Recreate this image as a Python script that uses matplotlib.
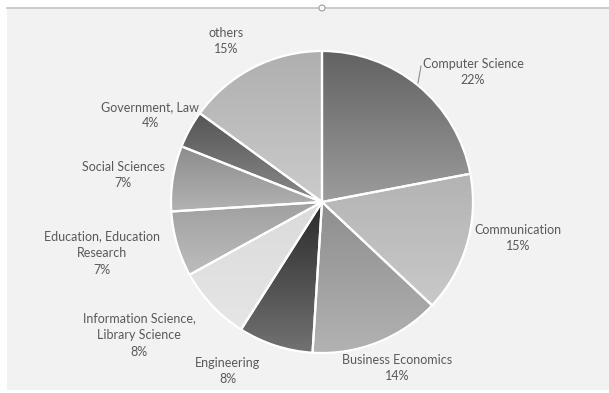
import numpy as np
import matplotlib
matplotlib.use('Agg')
import matplotlib.pyplot as plt
from matplotlib.colors import LinearSegmentedColormap
from matplotlib.patches import Rectangle, Circle

plt.rcParams['font.family'] = ['Lato', 'DejaVu Sans']

# data
categories = ['Computer Science', 'Communication', 'Business Economics', 'Engineering',
              'Information Science,\nLibrary Science', 'Education, Education\nResearch',
              'Social Sciences', 'Government, Law', 'others']
shares = [22, 15, 14, 8, 8, 7, 7, 4, 15]

# gradient colours per wedge (top -> bottom)
top_colors = ['#626262', '#b3b3b3', '#8e8e8e', '#2a2a2a', '#dadada',
              '#a0a0a0', '#8c8c8c', '#555555', '#afafaf']
bottom_colors = ['#9c9c9c', '#c9c9c9', '#b2b2b2', '#727272', '#e6e6e6',
                 '#bdbdbd', '#b2b2b2', '#8a8a8a', '#cbcbcb']

# label centres in pixel coords (x, y from top)
label_pos = [(473, 72), (518, 238), (397, 368), (228, 371), (139, 335),
             (102, 253), (123, 175), (150, 115), (226, 41)]

W, H = 609, 393
fig = plt.figure(figsize=(W / 100, H / 100), dpi=100)
fig.patch.set_facecolor('white')
ax = fig.add_axes([0, 0, 1, 1])

# chart area background
ax.add_patch(Rectangle((7, 3), W - 7, H - 11, facecolor='#f2f2f2', edgecolor='none', zorder=0))
ax.plot([7, W], [H - 8, H - 8], color='#c4c4c4', lw=1.2, zorder=1)
ax.add_patch(Circle((322, H - 8), 3, facecolor='white', edgecolor='#a0a0a0', lw=0.8, zorder=2))

cx, cy, R = 322, H - 202, 151
wedges, _ = ax.pie(shares, startangle=90, counterclock=False, center=(cx, cy), radius=R,
                   wedgeprops=dict(edgecolor='white', linewidth=1.6, facecolor='none'))

grad = np.linspace(0, 1, 256).reshape(-1, 1)
for w, c0, c1 in zip(wedges, top_colors, bottom_colors):
    w.set_zorder(4)
    ext = w.get_path().get_extents()
    cmap = LinearSegmentedColormap.from_list('g', [c0, c1])
    im = ax.imshow(grad, cmap=cmap, extent=[ext.x0, ext.x1, ext.y0, ext.y1],
                   origin='upper', aspect='auto', zorder=3, interpolation='bilinear')
    im.set_clip_path(w)

for name, pct, (lx, ly) in zip(categories, shares, label_pos):
    ax.text(lx, H - ly, f'{name}\n{pct}%', ha='center', va='center', fontsize=9,
            color='#595959', linespacing=1.45, zorder=5)

# leader line for Computer Science
ax.plot([421, 418], [H - 66, H - 83], color='#8c8c8c', lw=0.8, zorder=5)

ax.set_xlim(0, W)
ax.set_ylim(0, H)
ax.set_aspect('auto')
ax.axis('off')
fig.savefig('out.png', dpi=100, facecolor='white')
